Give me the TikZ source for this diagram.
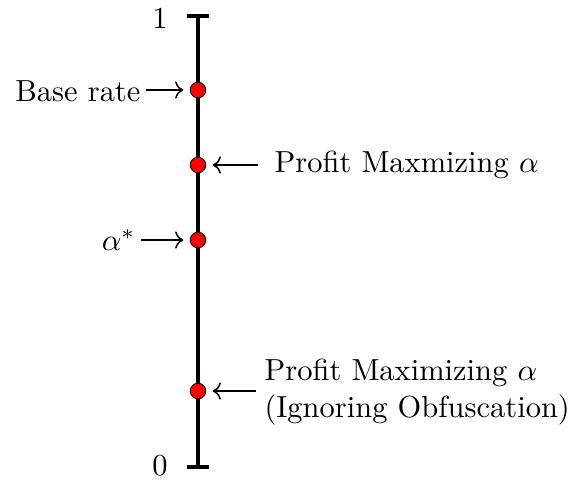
\documentclass[tikz,border=0pt]{standalone}
\usetikzlibrary{arrows.meta}
\begin{document}
\begin{tikzpicture}[x=0.328pt,y=-0.328pt,
  dot/.style={circle,draw=black,fill=red,line width=0.3pt,minimum size=5.1pt,inner sep=0pt},
  lbl/.style={inner sep=0pt,font=\normalsize},
  axis/.style={line width=1pt},
  pt/.style={->,line width=0.5pt,shorten >=2.1pt},
  ptl/.style={pt,shorten <=1.5pt},
  ptr/.style={pt,shorten <=5.2pt}]
\useasboundingbox (0,0) rectangle (574,485);
\coordinate (top) at (198,16);
\coordinate (bot) at (198,467);
\draw[axis] (top) -- (bot);
\draw[axis] ([xshift=-11*0.328pt]top) -- ([xshift=11*0.328pt]top);
\draw[axis] ([xshift=-11*0.328pt]bot) -- ([xshift=11*0.328pt]bot);
\node[lbl] (one) at (160,18) {1};
\node[lbl] (zero) at (160,466) {0};
\node[dot] (d1) at (198,90) {};
\node[dot] (d2) at (198,165) {};
\node[dot] (d3) at (198,240) {};
\node[dot] (d4) at (198,391) {};
\node[lbl,anchor=east] (br) at (141,91) {Base rate};
\node[lbl,anchor=west] (pm) at (274,165) {Profit Maxmizing $\alpha$};
\node[lbl,anchor=east] (as) at (136,240) {$\alpha^*$};
\node[lbl,anchor=west,align=left] (pmi) at (264,392) {Profit Maximizing $\alpha$\\(Ignoring Obfuscation)};
\draw[ptl] (br.east |- d1) -- (d1);
\draw[ptr] (pm.west |- d2) -- (d2);
\draw[ptl] (as.east |- d3) -- (d3);
\draw[ptr,shorten <=2.7pt] (pmi.west |- d4) -- (d4);
\end{tikzpicture}
\end{document}
